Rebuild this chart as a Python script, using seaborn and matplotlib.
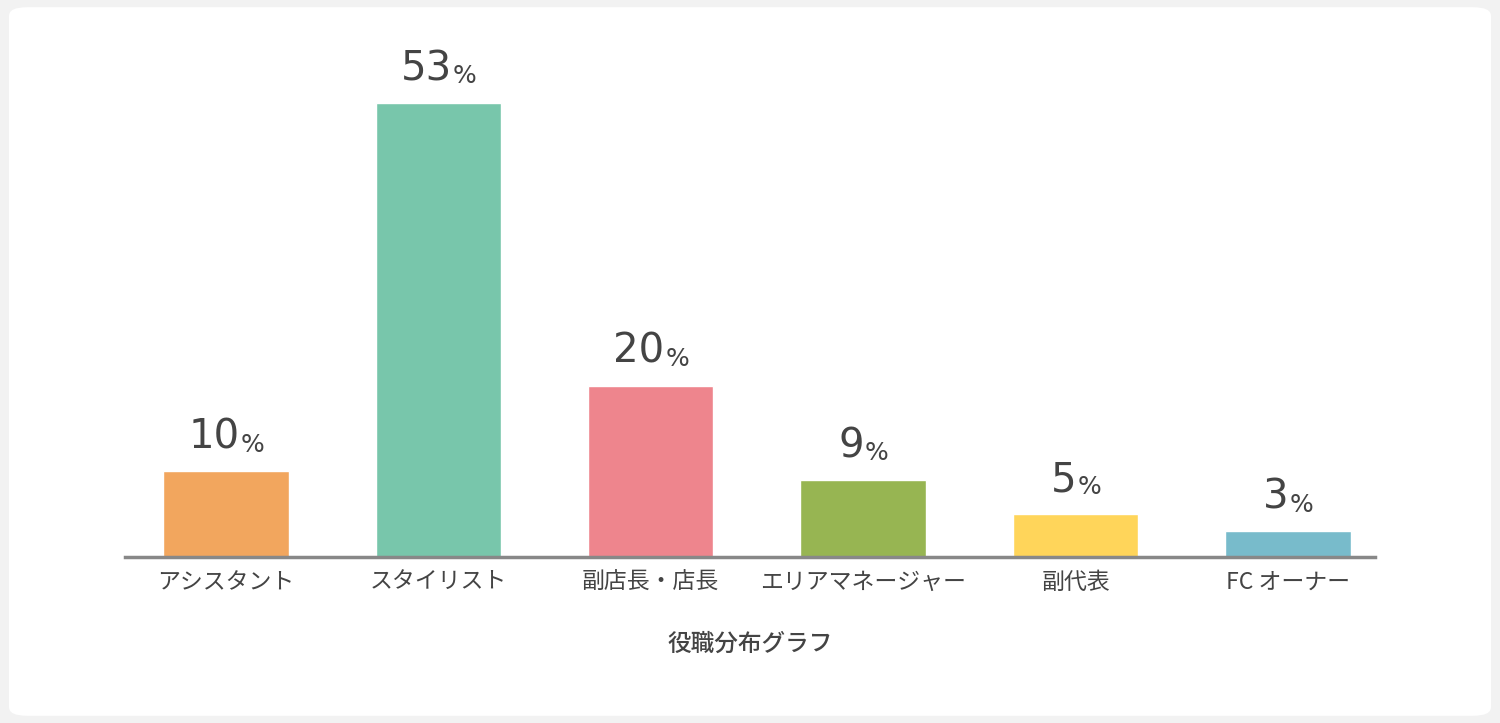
import matplotlib
matplotlib.use("Agg")
import matplotlib.pyplot as plt
import seaborn as sns
import pandas as pd
from matplotlib.patches import FancyBboxPatch
from matplotlib.transforms import offset_copy

roles = ["アシスタント", "スタイリスト", "副店長・店長", "エリアマネージャー", "副代表", "FC オーナー"]
shares = [10, 53, 20, 9, 5, 3]
colors = ["#F2A65E", "#78C6AB", "#EE858D", "#97B552", "#FFD55A", "#78BBCB"]
title = "役職分布グラフ"

sns.set_theme(style="white")
plt.rcParams["font.family"] = ["Noto Sans CJK JP", "DejaVu Sans"]

df = pd.DataFrame({"role": roles, "share": shares})

fig = plt.figure(figsize=(15, 7.23), dpi=100, facecolor="#F2F2F2")
card = FancyBboxPatch((0.006, 0.01), 0.988, 0.98, boxstyle="round,pad=0,rounding_size=0.012",
                      transform=fig.transFigure, facecolor="white", edgecolor="none", zorder=-10)
fig.patches.append(card)

ax = fig.add_axes([125 / 1500, 1 - 557 / 723, 1250 / 1500, 540 / 723])
ax.set_zorder(5)
ax.patch.set_visible(False)
sns.barplot(data=df, x="role", y="share", hue="role", palette=colors, width=0.59,
            legend=False, ax=ax, saturation=1)
ax.set_xlim(-0.475, 5.41)
ax.set_ylim(0, 540 / 8.57)
for s in ["top", "right", "left"]:
    ax.spines[s].set_visible(False)
ax.spines["bottom"].set_color("#888888")
ax.spines["bottom"].set_linewidth(2.5)
ax.set_yticks([])
ax.set_ylabel("")
ax.set_xlabel(title, fontsize=17, color="#444444", labelpad=28, fontweight="medium")
ax.tick_params(axis="x", length=0, labelsize=16.5, labelcolor="#444444", pad=10)

fig.canvas.draw()
r = fig.canvas.get_renderer()
for i, v in enumerate(shares):
    t1 = ax.text(i, v + 1.6, str(v), fontsize=29, color="#444444", ha="center", va="bottom",
                 family="DejaVu Sans")
    t2 = ax.text(i, v + 1.6, "%", fontsize=18, color="#444444", ha="left", va="bottom",
                 family="DejaVu Sans")
    w1 = t1.get_window_extent(r).width
    w2 = t2.get_window_extent(r).width
    # shift so the number+% group is centred on the bar
    t1.set_transform(offset_copy(ax.transData, fig=fig, x=-w2 / 2, y=0, units="dots"))
    t2.set_transform(offset_copy(ax.transData, fig=fig, x=w1 / 2 - w2 / 2 + 1, y=1, units="dots"))

fig.savefig("out.png", dpi=100, facecolor=fig.get_facecolor())
